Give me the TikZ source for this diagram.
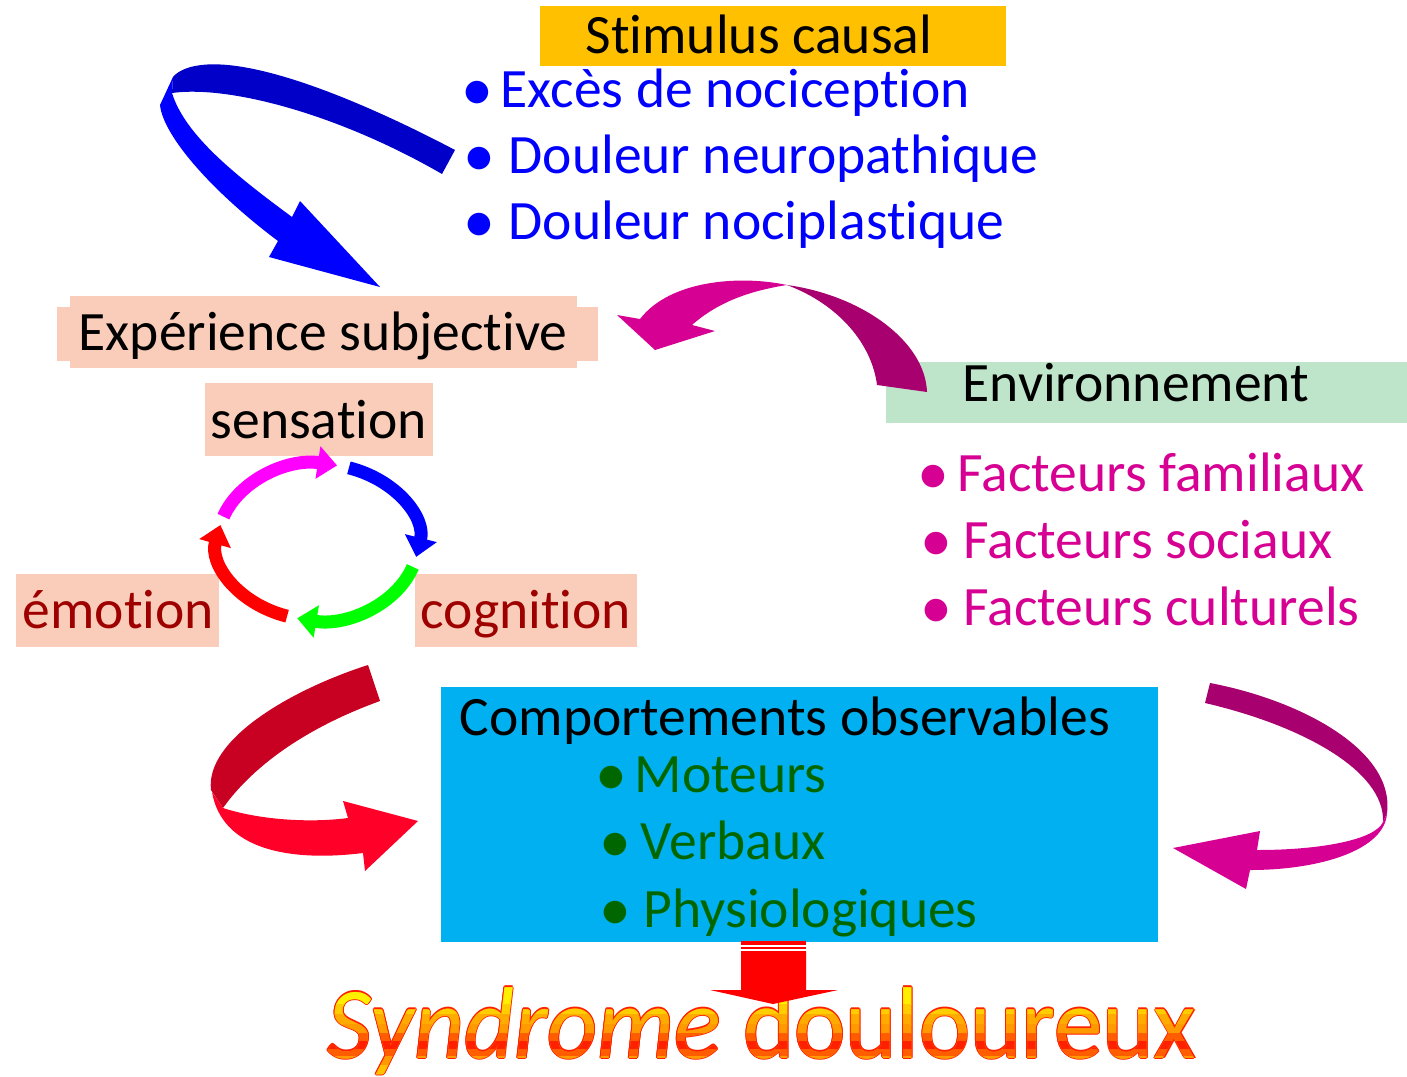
\documentclass[tikz,border=0pt]{standalone}
\usepackage{fontspec}
\setmainfont{Carlito}[Ligatures=NoCommon]
\usetikzlibrary{arrows.meta}

\definecolor{stimorange}{HTML}{FFC000}
\definecolor{peach}{HTML}{FACDBA}
\definecolor{envgreen}{HTML}{BEE4C9}
\definecolor{compcyan}{HTML}{00B0F0}
\definecolor{envmag}{HTML}{D60093}
\definecolor{darkmag}{HTML}{A8006E}
\definecolor{darkblue}{HTML}{0000C8}
\definecolor{darkred}{HTML}{9E0000}
\definecolor{leafgreen}{HTML}{006600}
\definecolor{ribbonred}{HTML}{FF0028}
\definecolor{ribbondark}{HTML}{C80022}
\definecolor{cycmag}{HTML}{FF00FF}
\definecolor{cycblue}{HTML}{0000FF}
\definecolor{cycgreen}{HTML}{00FF00}
\definecolor{cycred}{HTML}{FF0000}
\definecolor{wyellow}{HTML}{FFF000}
\definecolor{worange}{HTML}{FF9A00}
\definecolor{wred}{HTML}{FF2000}

\newcommand{\bul}[1]{\makebox[#1][l]{\raisebox{-0.15ex}{\scalebox{1.15}{•}}}}
\newcommand{\syndtext}{\scalebox{0.955}[1]{\textit{Syndrome} douloureux}}

\begin{document}
\begin{tikzpicture}[x=0.01cm, y=-0.01cm,
    txt/.style={anchor=base west, inner sep=0pt, font=\fontsize{15.8}{18}\selectfont},
    syndfont/.style={anchor=base, inner sep=0pt, font=\fontsize{29}{34}\selectfont},
    cycarrow/.style={line width=3.7pt, -{Triangle[width=9pt,length=5.5pt]}}]

  \useasboundingbox (0,0) rectangle (1407,1076);

  % boxes
  \fill[stimorange] (540,6) rectangle (1006,66);
  \fill[peach] (70,296) rectangle (577,368);
  \fill[peach] (57,307) rectangle (598,361);
  \fill[peach] (205,383) rectangle (433,456);
  \fill[peach] (16,574) rectangle (219,647);
  \fill[peach] (415,574) rectangle (637,647);
  \fill[envgreen] (886,362) rectangle (1407,423);
  \fill[compcyan] (441,687) rectangle (1158,942);

  % texts
  \node[txt] (stim) at (585,54) {Stimulus causal};
  \node[txt, blue] (exces) at (461,107) {\bul{.39cm}Excès de nociception};
  \node[txt, blue] (neuro) at (463,173) {\bul{.45cm}Douleur neuropathique};
  \node[txt, blue] (nocip) at (463,239) {\bul{.45cm}Douleur nociplastique};

  \node[txt] (exp) at (78,350) {Expérience subjective};
  \node[txt] (sens) at (210,438) {sensation};
  \node[txt, darkred] (emo) at (22,628) {émotion};
  \node[txt, darkred] (cog) at (420,628) {cognition};

  \node[txt] (env) at (962,401) {Environnement};
  \node[txt, envmag] (fam) at (917,491) {\bul{.40cm}Facteurs familiaux};
  \node[txt, envmag] (soc) at (920,558) {\bul{.43cm}Facteurs sociaux};
  \node[txt, envmag] (cult) at (920,625) {\bul{.43cm}Facteurs culturels};

  \node[txt] (comp) at (459,735) {Comportements observables};
  \node[txt, leafgreen] (mot) at (595,792) {\bul{.39cm}Moteurs};
  \node[txt, leafgreen] (verb) at (599,859) {\bul{.41cm}Verbaux};
  \node[txt, leafgreen] (phys) at (599,927) {\bul{.44cm}Physiologiques};

  % stimulus -> experience
  \fill[darkblue] (455,150) .. controls (360,100) and (250,55) .. (195,66)
    .. controls (185,68) and (177,72) .. (173,77) -- (172,93)
    .. controls (230,85) and (340,115) .. (442,174) -- cycle;
  \fill[blue] (173,77) -- (160,105) .. controls (163,135) and (210,190) .. (278,241)
    -- (269,257) -- (380,287) -- (300,201) -- (292,217)
    .. controls (235,175) and (185,135) .. (172,93) -- cycle;

  % environnement -> experience
  \fill[darkmag] (787,285) .. controls (860,295) and (925,340) .. (927,392)
    -- (877,385) .. controls (872,345) and (840,305) .. (787,285) -- cycle;
  \fill[envmag] (787,285) .. controls (740,275) and (670,280) .. (640,319)
    -- (617,315) -- (655,350) -- (715,331) -- (692,325)
    .. controls (720,300) and (755,290) .. (787,285) -- cycle;

  % experience -> comportements
  \fill[ribbondark] (368,665) .. controls (290,690) and (205,740) .. (211,790)
    -- (223,808) .. controls (250,770) and (300,730) .. (380,701) -- cycle;
  \fill[ribbonred] (212,792) -- (223,808) .. controls (260,820) and (310,823) .. (348,818)
    -- (343,801) -- (418,821) -- (365,871) -- (363,853)
    .. controls (290,862) and (222,850) .. (212,792) -- cycle;

  % environnement -> comportements
  \fill[darkmag] (1210,683) .. controls (1300,700) and (1395,750) .. (1387,813)
    -- (1383,822) .. controls (1385,770) and (1300,725) .. (1205,703) -- cycle;
  \fill[envmag] (1387,813) .. controls (1385,850) and (1320,870) .. (1250,870)
    -- (1246,889) -- (1173,848) -- (1260,831) -- (1257,850)
    .. controls (1320,850) and (1375,840) .. (1383,822) -- cycle;

  % cycle
  \coordinate (cyc) at (318,542);
  \draw[cycarrow, cycmag] (cyc) ++(199:100 and 78) arc[start angle=199, end angle=281, x radius=100, y radius=78];
  \draw[cycarrow, cycblue] (cyc) ++(288:100 and 78) arc[start angle=288, end angle=371, x radius=100, y radius=78];
  \draw[cycarrow, cycgreen] (cyc) ++(18.6:100 and 78) arc[start angle=18.6, end angle=102, x radius=100, y radius=78];
  \draw[cycarrow, cycred] (cyc) ++(108:100 and 78) arc[start angle=108, end angle=192.6, x radius=100, y radius=78];

  % syndrome: red rim, then colour bands
  \foreach \dx/\dy [count=\i] in {-1.1/0,1.1/0,0/-1.1,0/1.1,-0.8/-0.8,0.8/0.8,-0.8/0.8,0.8/-0.8}
    \node[syndfont, wred] (rim\i) at (762+\dx,1058+\dy) {\syndtext};
  \node[syndfont, worange] (synd) at (762,1058) {\syndtext};
  \foreach \ya/\yb/\col [count=\i] in {970/1004/wyellow, 1004/1014/wyellow!60!worange,
      1014/1024/worange!80!wyellow, 1024/1033/worange, 1033/1041/worange!50!wred,
      1041/1049/wred, 1049/1056/wred!50!worange, 1056/1065/worange,
      1065/1090/worange!55!wyellow}
  {
    \begin{scope}
      \clip (300,\ya) rectangle (1230,\yb);
      \node[syndfont, \col] (band\i) at (762,1058) {\syndtext};
    \end{scope}
  }

  % comportements -> syndrome
  \fill[red] (741,941) rectangle (806,945);
  \fill[red] (741,946.5) rectangle (806,949);
  \fill[red] (741,951) -- (806,951) -- (806,990) -- (838,990) -- (773,1004)
    -- (710,990) -- (741,990) -- cycle;
\end{tikzpicture}
\end{document}
